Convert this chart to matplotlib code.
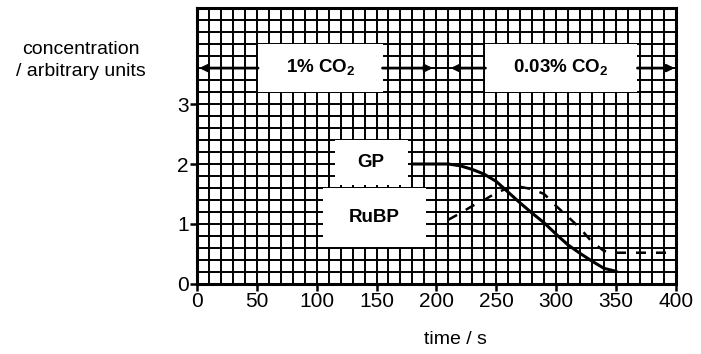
import matplotlib.pyplot as plt
from matplotlib.patches import Rectangle

plt.rcParams['font.family'] = ['Liberation Sans', 'DejaVu Sans']
plt.rcParams['mathtext.fontset'] = 'custom'
plt.rcParams['mathtext.rm'] = 'Liberation Sans'
plt.rcParams['mathtext.bf'] = 'Liberation Sans:bold'

# data
gp_time = [180, 200, 210, 220, 230, 240, 250, 260, 270, 280, 290, 300, 310, 320, 330, 340, 350]
gp_conc = [2.0, 2.0, 2.0, 1.97, 1.91, 1.83, 1.71, 1.53, 1.35, 1.18, 1.02, 0.83, 0.65, 0.51, 0.38, 0.26, 0.21]

rubp_time = [210, 220, 230, 240, 250, 260, 270, 280, 290, 300, 310, 320, 330, 340, 350, 400]
rubp_conc = [1.07, 1.18, 1.3, 1.4, 1.52, 1.6, 1.62, 1.58, 1.5, 1.3, 1.12, 0.93, 0.7, 0.55, 0.52, 0.52]

x_ticks = [0, 50, 100, 150, 200, 250, 300, 350, 400]
y_ticks = [0, 1, 2, 3]

fig = plt.figure(figsize=(7.01, 3.54), dpi=100)
ax = fig.add_axes([0.281, 0.198, 0.683, 0.779])
ax.set_xlim(0, 400)
ax.set_ylim(0, 4.6)

# graph paper grid
ax.set_xticks(x_ticks)
ax.set_yticks(y_ticks)
ax.set_xticks(range(0, 401, 10), minor=True)
ax.set_yticks([i * 0.2 for i in range(24)], minor=True)
ax.grid(True, which='both', color='black', lw=1.4)
ax.set_axisbelow(True)
ax.tick_params(which='minor', length=0)
ax.tick_params(which='major', direction='out', length=5, width=1.8,
               labelsize=15, pad=1)
for s in ax.spines.values():
    s.set_linewidth(2.2)

# white label boxes covering the grid (x, y, w, h)
boxes = [(51, 3.2, 104, 0.8), (241, 3.2, 127, 0.8),
         (115, 1.65, 61, 0.75), (105, 0.62, 86, 0.98)]
for bx, by, bw, bh in boxes:
    ax.add_patch(Rectangle((bx, by), bw, bh, facecolor='white',
                           edgecolor='none', zorder=2))

ax.text(103, 3.6, '1% CO$_\\mathbf{2}$', ha='center', va='center',
        fontsize=13.5, fontweight='bold', zorder=4)
ax.text(304, 3.6, '0.03% CO$_\\mathbf{2}$', ha='center', va='center',
        fontsize=13.5, fontweight='bold', zorder=4)
ax.text(145, 2.02, 'GP', ha='center', va='center',
        fontsize=13.5, fontweight='bold', zorder=4)
ax.text(148, 1.1, 'RuBP', ha='center', va='center',
        fontsize=13.5, fontweight='bold', zorder=4)

# arrows for the CO2 periods
arr = dict(arrowstyle='-|>', color='black', lw=2, mutation_scale=10,
           shrinkA=0, shrinkB=0)
ax.annotate('', xy=(2, 3.6), xytext=(51, 3.6), arrowprops=arr, zorder=4)
ax.annotate('', xy=(197, 3.6), xytext=(155, 3.6), arrowprops=arr, zorder=4)
ax.annotate('', xy=(212, 3.6), xytext=(241, 3.6), arrowprops=arr, zorder=4)
ax.annotate('', xy=(399, 3.6), xytext=(368, 3.6), arrowprops=arr, zorder=4)

ax.plot(gp_time, gp_conc, color='black', lw=2.2, zorder=3)
ax.plot(rubp_time, rubp_conc, color='black', lw=1.8,
        linestyle=(0, (4, 4)), zorder=3)

fig.text(81 / 701, 1 - 50 / 354, 'concentration', ha='center', va='center',
         fontsize=14)
fig.text(81 / 701, 1 - 72 / 354, '/ arbitrary units', ha='center',
         va='center', fontsize=14)
fig.text(455 / 701, 1 - 340 / 354, 'time / s', ha='center', va='center',
         fontsize=14)

fig.savefig('out.png', dpi=100)
